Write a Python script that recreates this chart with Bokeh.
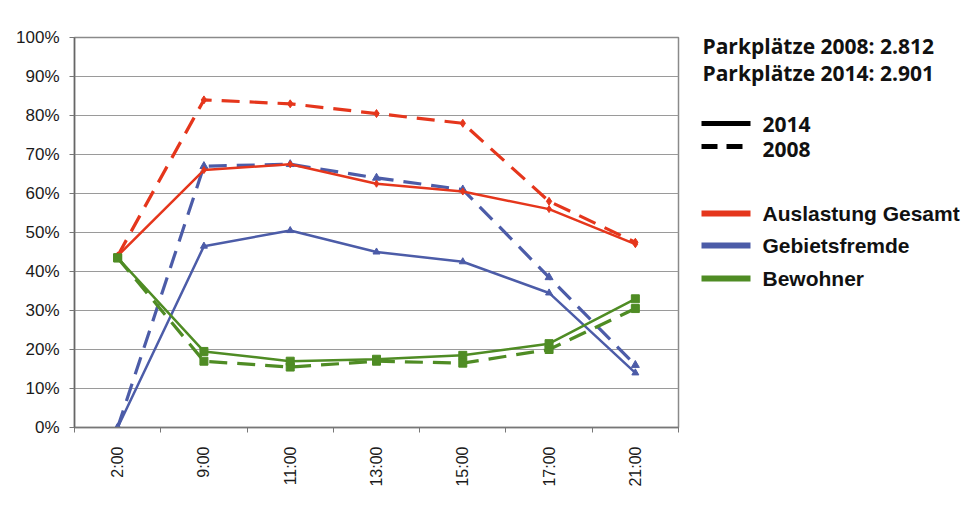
from bokeh.plotting import figure
from bokeh.layouts import row
from bokeh.models import Range1d, FixedTicker
from bokeh.core.properties import value
from bokeh.embed import file_html
from bokeh.resources import INLINE
import math

# ---- data ----
times = ["2:00", "9:00", "11:00", "13:00", "15:00", "17:00", "21:00"]
gesamt_2014 = [44, 66, 67.5, 62.5, 60.5, 56, 47]
gesamt_2008 = [44, 84, 83, 80.5, 78, 58, 47.5]
fremde_2014 = [0, 46.5, 50.5, 45, 42.5, 34.5, 14]
fremde_2008 = [0, 67, 67.5, 64, 61, 38.5, 16]
bewohner_2014 = [43.5, 19.5, 17, 17.5, 18.5, 21.5, 33]
bewohner_2008 = [43.5, 17, 15.5, 17, 16.5, 20, 30.5]
y_ticks = [0, 10, 20, 30, 40, 50, 60, 70, 80, 90, 100]
info_lines = ["Parkplätze 2008: 2.812", "Parkplätze 2014: 2.901"]
year_labels = ["2014", "2008"]
series_names = ["Auslastung Gesamt", "Gebietsfremde", "Bewohner"]

RED = "#E5361C"
BLUE = "#4C5CA8"
GREEN = "#4F8C24"
colors = [RED, BLUE, GREEN]

xc = [i + 0.5 for i in range(len(times))]

H = 498
TOP, BOTTOM = 37, 71
p = figure(width=680, height=H, x_range=Range1d(0, len(times)), y_range=Range1d(0, 100),
           min_border_left=74, min_border_right=2, min_border_top=TOP, min_border_bottom=BOTTOM,
           toolbar_location=None, output_backend="svg")
p.background_fill_color = "white"
p.border_fill_color = "white"
p.outline_line_color = "#8a8a8a"
p.outline_line_width = 1.5

p.xgrid.visible = False
p.ygrid.ticker = FixedTicker(ticks=y_ticks)
p.ygrid.grid_line_color = "#9a9a9a"
p.ygrid.grid_line_width = 1

# x axis
p.xaxis.ticker = FixedTicker(ticks=xc, minor_ticks=list(range(len(times) + 1)))
p.xaxis.major_label_overrides = {x: t for x, t in zip(xc, times)}
p.xaxis.major_tick_out = 0
p.xaxis.major_tick_in = 0
p.xaxis.minor_tick_out = 5
p.xaxis.minor_tick_in = 0
p.xaxis.minor_tick_line_color = "#777777"
p.xaxis.axis_line_color = "#777777"
p.xaxis.axis_line_width = 1.5
p.xaxis.major_label_orientation = math.pi / 2
p.xaxis.major_label_standoff = 14
p.xaxis.major_label_text_font = "Liberation Sans"
p.xaxis.major_label_text_font_size = "16px"
p.xaxis.major_label_text_color = "#1a1a1a"

# y axis
p.yaxis.ticker = FixedTicker(ticks=y_ticks)
p.yaxis.major_label_overrides = {v: f"{v}%" for v in y_ticks}
p.yaxis.major_tick_out = 5
p.yaxis.major_tick_in = 0
p.yaxis.minor_tick_out = 0
p.yaxis.minor_tick_in = 0
p.yaxis.major_tick_line_color = "#777777"
p.yaxis.axis_line_color = "#666666"
p.yaxis.axis_line_width = 1.5
p.yaxis.major_label_standoff = 10
p.yaxis.major_label_text_font = "Liberation Sans"
p.yaxis.major_label_text_font_size = "17px"
p.yaxis.major_label_text_color = "#1a1a1a"

DASH = "18 10"
# dashed 2008 first
p.line(xc, gesamt_2008, line_color=RED, line_width=3.2, line_dash=DASH)
p.scatter(xc, gesamt_2008, marker="diamond", size=8, color=RED)
p.line(xc, fremde_2008, line_color=BLUE, line_width=3.2, line_dash=DASH)
p.scatter(xc, fremde_2008, marker="triangle", size=8, color=BLUE)
p.line(xc, bewohner_2008, line_color=GREEN, line_width=3.2, line_dash=DASH)
p.scatter(xc, bewohner_2008, marker="square", size=8, color=GREEN)
# solid 2014
p.line(xc, fremde_2014, line_color=BLUE, line_width=2.5)
p.scatter(xc, fremde_2014, marker="triangle", size=7, color=BLUE)
p.line(xc, gesamt_2014, line_color=RED, line_width=2.5)
p.scatter(xc, gesamt_2014, marker="diamond", size=7, color=RED)
p.line(xc, bewohner_2014, line_color=GREEN, line_width=2.5)
p.scatter(xc, bewohner_2014, marker="square", size=8, color=GREEN)

# ---- legend panel: frame aligned with main frame; coordinates = page pixels ----
LW = 297
q = figure(width=LW, height=H, x_range=Range1d(680, 680 + LW), y_range=Range1d(H - BOTTOM, TOP),
           min_border_left=0, min_border_right=0, min_border_top=TOP, min_border_bottom=BOTTOM,
           x_axis_location=None, y_axis_location=None,
           toolbar_location=None, output_backend="svg")
q.grid.visible = False
q.outline_line_color = None
q.background_fill_color = "white"
q.border_fill_color = "white"

info_y = [45, 72]
q.text(x=[702] * len(info_lines), y=info_y, text=info_lines, text_baseline="middle",
       text_font=value("Open Sans"), text_font_style="bold", text_font_size="21px",
       text_color="#111111")

year_y = [124, 149]
q.segment(x0=[701], y0=[123], x1=[750], y1=[123], line_color="black", line_width=5)
q.segment(x0=[701], y0=[146], x1=[750], y1=[146], line_color="black", line_width=5,
          line_dash="16 9")
q.text(x=[762] * len(year_labels), y=year_y, text=year_labels, text_baseline="middle",
       text_font=value("Open Sans"), text_font_style="bold", text_font_size="21px",
       text_color="#111111")

ser_y = [213, 245, 278]
q.segment(x0=[701] * 3, y0=ser_y, x1=[750] * 3, y1=ser_y, line_color=colors, line_width=6)
q.text(x=[762] * len(series_names), y=ser_y, text=series_names, text_baseline="middle",
       text_font=value("Liberation Sans"), text_font_style="bold", text_font_size="21px",
       text_color="#111111")

layout = row(p, q)
open("out.html", "w").write(file_html(layout, INLINE))
